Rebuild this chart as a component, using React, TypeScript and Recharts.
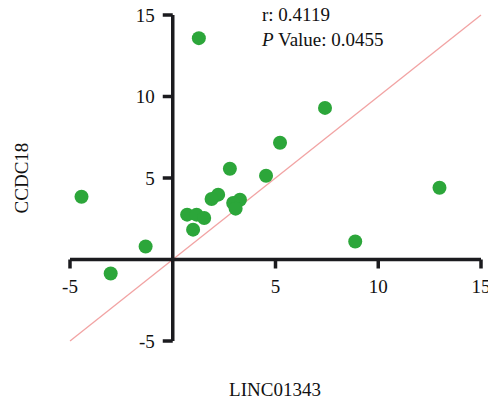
import React from 'react';
import { ScatterChart, Scatter, XAxis, YAxis, ReferenceLine, ReferenceDot } from 'recharts';

const xValues = [1.27, -4.44, -1.32, -3.02, 7.41, 5.22, 2.78, 4.54, 12.98, 8.88, 2.21, 1.89, 3.27, 2.94, 3.06, 0.7, 1.16, 1.53, 0.99];
const yValues = [13.58, 3.85, 0.8, -0.86, 9.3, 7.16, 5.57, 5.14, 4.4, 1.1, 3.98, 3.71, 3.67, 3.47, 3.12, 2.75, 2.75, 2.55, 1.83];
const xTicks = [-5, 5, 10, 15];
const yTicks = [-5, 5, 10, 15];
const domain: [number, number] = [-5, 15];
const fitLine = [
  { x: -5, y: -5 },
  { x: 15, y: 15 },
];
const stats = { r: '0.4119', p: '0.0455' };

const FONT = '"Liberation Serif", "DejaVu Serif", serif';
const AXIS = '#1b1b1f';
const GREEN = '#2ca63a';
const textStyle = { fontFamily: FONT, fontSize: 19 };

const points = xValues.map((x, i) => ({ x, y: yValues[i] }));

const XTick = (label: number) => (props: any) => (
  <g>
    <line x1={props.cx} y1={props.cy} x2={props.cx} y2={props.cy + 9} stroke={AXIS} strokeWidth={3.5} />
    <text x={props.cx} y={props.cy + 33} textAnchor="middle" style={textStyle} fill="#111">
      {label}
    </text>
  </g>
);

const YTick = (label: number) => (props: any) => (
  <g>
    <line x1={props.cx} y1={props.cy} x2={props.cx - 10} y2={props.cy} stroke={AXIS} strokeWidth={3.5} />
    <text x={props.cx - 18} y={props.cy + 6.5} textAnchor="end" style={textStyle} fill="#111">
      {label}
    </text>
  </g>
);

export default function App() {
  return (
    <div style={{ position: 'absolute', left: 0, top: 0, width: 488, height: 402, background: '#fff' }}>
      <ScatterChart width={488} height={402} margin={{ top: 15, right: 7, bottom: 61, left: 70 }}>
        <XAxis type="number" dataKey="x" domain={domain} hide allowDataOverflow />
        <YAxis type="number" dataKey="y" domain={domain} hide allowDataOverflow />
        <ReferenceLine segment={fitLine} stroke="#f2a3a3" strokeWidth={1.3} ifOverflow="visible" />
        <ReferenceLine x={0} stroke={AXIS} strokeWidth={3.5} />
        <ReferenceLine y={0} stroke={AXIS} strokeWidth={3.5} />
        {xTicks.map((t) => (
          <ReferenceDot key={'x' + t} x={t} y={0} r={0} ifOverflow="visible" shape={XTick(t)} />
        ))}
        {yTicks.map((t) => (
          <ReferenceDot key={'y' + t} x={0} y={t} r={0} ifOverflow="visible" shape={YTick(t)} />
        ))}
        <Scatter data={points} fill={GREEN} isAnimationActive={false} shape={(p: any) => <circle cx={p.cx} cy={p.cy} r={7} fill={GREEN} />} />
      </ScatterChart>
      <svg width={488} height={402} style={{ position: 'absolute', left: 0, top: 0, pointerEvents: 'none' }}>
        <g style={textStyle} fill="#111">
          <text x={262} y={21}>r: {stats.r}</text>
          <text x={262} y={46}>
            <tspan fontStyle="italic">P</tspan> Value: {stats.p}
          </text>
          <text x={275} y={396} textAnchor="middle">LINC01343</text>
          <text x={28} y={178} textAnchor="middle" transform="rotate(-90, 28, 178)">CCDC18</text>
        </g>
      </svg>
    </div>
  );
}
